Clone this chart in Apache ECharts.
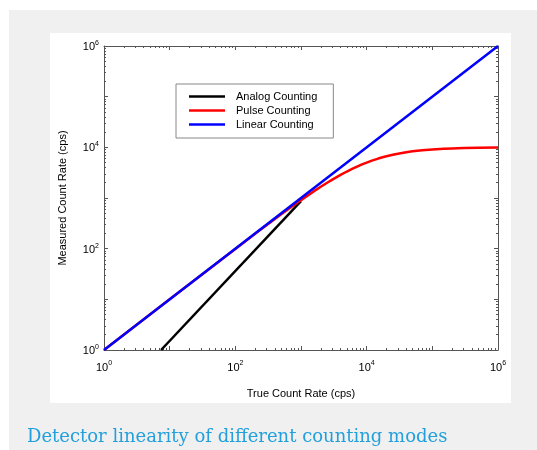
<!DOCTYPE html>
<html>
<head>
<meta charset="utf-8">
<script src="https://cdn.jsdelivr.net/npm/echarts@6/dist/echarts.min.js"></script>
<style>
html,body{margin:0;padding:0;background:#fff;}
#c{width:537px;height:450px;}
</style>
</head>
<body>
<div id="c"></div>
<script>
// ---- data ----
const seriesNames = ['Analog Counting', 'Pulse Counting', 'Linear Counting'];
const analogX = [7.4, 1000];
const analogY = [1, 870];
const pulseX = [1, 10, 100, 200, 500, 1000, 1500, 2000, 2500, 3000, 4000, 5000, 6000, 7000, 8500, 10000, 12000, 15000, 18000, 20000, 25000, 30000, 40000, 50000, 70000, 100000, 150000, 200000, 300000, 500000, 1000000];
const pulseY = [1, 9.99, 99, 196, 476, 909, 1304, 1667, 2000, 2308, 2857, 3333, 3750, 4118, 4595, 5000, 5455, 6000, 6429, 6667, 7143, 7500, 8000, 8333, 8750, 9091, 9375, 9524, 9677, 9804, 9901];
const linearX = [1, 1000000];
const linearY = [1, 1000000];
const majorTicks = [1, 10, 100, 1000, 10000, 100000, 1000000];
const labelTicks = [1, 100, 10000, 1000000];
const xTitle = 'True Count Rate (cps)';
const yTitle = 'Measured Count Rate (cps)';
const caption = 'Detector linearity of different counting modes';

const minorTicks = [];
for (let i = 0; i < majorTicks.length - 1; i++) {
  for (let k = 2; k <= 9; k++) minorTicks.push(majorTicks[i] * k);
}
const pairs = (xs, ys) => xs.map((x, i) => [x, ys[i]]);

const fontFam = 'Liberation Sans, Arial, sans-serif';
const axisColor = '#555';
const labelFmt = v => '{b|10}{s|' + Math.round(Math.log10(v)) + '}';
const richLbl = {
  b: {fontSize: 11, fontFamily: fontFam, color: '#000', verticalAlign: 'bottom'},
  s: {fontSize: 7, fontFamily: fontFam, color: '#000', verticalAlign: 'top', padding: [0,0,6,0]}
};

function mkAxis(dim, pos, ticks, len, showLine, showLabel) {
  return {
    type: 'log', logBase: 10, min: 1, max: 1000000, position: pos,
    splitLine: {show: false},
    axisLine: {show: showLine, lineStyle: {color: axisColor, width: 1}},
    axisTick: {show: true, inside: true, length: len, customValues: ticks, lineStyle: {color: axisColor, width: 1}},
    axisLabel: {show: showLabel, customValues: labelTicks, formatter: labelFmt, rich: richLbl, margin: dim === 'x' ? 10 : 5},
    minorTick: {show: false}
  };
}

const xAxes = [
  Object.assign(mkAxis('x', 'bottom', majorTicks, 4, true, true), {name: xTitle, nameLocation: 'middle', nameGap: 38, nameTextStyle: {fontSize: 11, fontFamily: fontFam, color: '#000'}}),
  mkAxis('x', 'bottom', minorTicks, 2, false, false),
  mkAxis('x', 'top', majorTicks, 4, true, false),
  mkAxis('x', 'top', minorTicks, 2, false, false)
];
const yAxes = [
  Object.assign(mkAxis('y', 'left', majorTicks, 4, true, true), {name: yTitle, nameLocation: 'middle', nameGap: 36, nameTextStyle: {fontSize: 11, fontFamily: fontFam, color: '#000'}}),
  mkAxis('y', 'left', minorTicks, 2, false, false),
  mkAxis('y', 'right', majorTicks, 4, true, false),
  mkAxis('y', 'right', minorTicks, 2, false, false)
];

const colors = ['#000000', '#ff0000', '#0000ff'];
const datas = [pairs(analogX, analogY), pairs(pulseX, pulseY), pairs(linearX, linearY)];

const chart = echarts.init(document.getElementById('c'), null, {renderer: 'canvas'});
chart.setOption({
  animation: false,
  backgroundColor: 'transparent',
  graphic: [
    {type: 'rect', z: -10, silent: true, shape: {x: 9, y: 10, width: 528, height: 440}, style: {fill: '#f0f0f0'}},
    {type: 'rect', z: -9, silent: true, shape: {x: 50, y: 33, width: 461, height: 370}, style: {fill: '#ffffff'}}
  ],
  title: {
    text: caption, left: 27, top: 428, padding: 0,
    textStyle: {fontSize: 18, fontWeight: 'normal', fontFamily: 'DejaVu Serif, serif', color: '#23a0dc'}
  },
  grid: {left: 104, right: 39, top: 46, bottom: 100, containLabel: false},
  legend: {
    orient: 'vertical', left: 176, top: 84,
    padding: [7, 16, 8, 13], itemGap: 3,
    backgroundColor: '#fff', borderColor: '#888', borderWidth: 1,
    icon: 'rect', itemWidth: 36, itemHeight: 2.5,
    textStyle: {fontSize: 11, fontFamily: fontFam, color: '#000', padding: [0, 0, 0, 6]},
    data: seriesNames
  },
  xAxis: xAxes,
  yAxis: yAxes,
  series: seriesNames.map((n, i) => ({
    name: n, type: 'line', data: datas[i], showSymbol: false, symbol: 'none',
    xAxisIndex: 0, yAxisIndex: 0,
    lineStyle: {color: colors[i], width: 2.5}, itemStyle: {color: colors[i]},
    z: 2 + i
  }))
});
</script>
</body>
</html>
